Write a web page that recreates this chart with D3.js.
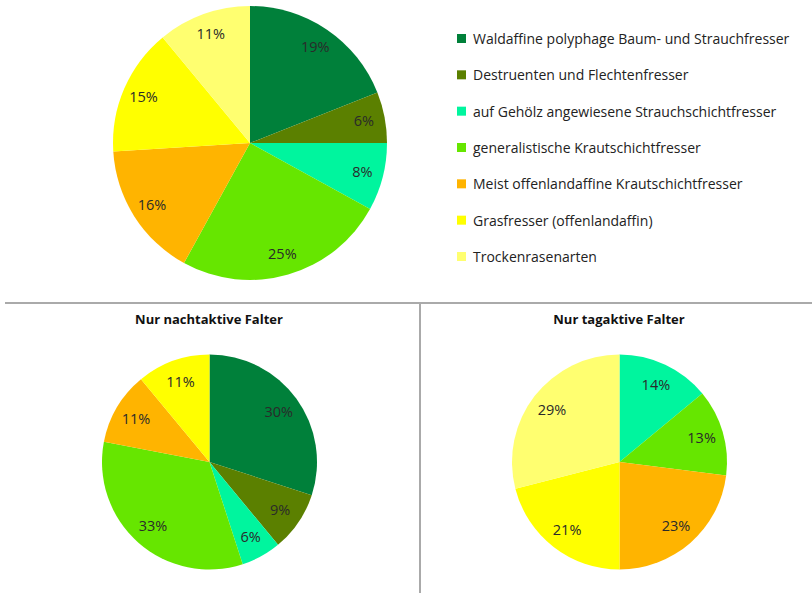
<!DOCTYPE html>
<html><head><meta charset="utf-8">
<script src="https://cdn.jsdelivr.net/npm/d3@7"></script>
<style>
html,body{margin:0;padding:0;background:#fff;}
svg{display:block;}
text{font-family:"Open Sans","Liberation Sans",sans-serif;}
</style></head>
<body>
<svg id="c" width="812" height="593"></svg>
<script>
const categories = [
  "Waldaffine polyphage Baum- und Strauchfresser",
  "Destruenten und Flechtenfresser",
  "auf Gehölz angewiesene Strauchschichtfresser",
  "generalistische Krautschichtfresser",
  "Meist offenlandaffine Krautschichtfresser",
  "Grasfresser (offenlandaffin)",
  "Trockenrasenarten"
];
const colors = ["#00803a","#5b8000","#00f59e","#66e600","#ffb400","#ffff00","#ffff70"];
const allValues   = [19, 6, 8, 25, 16, 15, 11];
const nightValues = [30, 9, 6, 33, 11, 11, 0];
const dayValues   = [0, 0, 14, 13, 23, 21, 29];
const titles = ["", "Nur nachtaktive Falter", "Nur tagaktive Falter"];

const svg = d3.select("#c");
const color = d3.scaleOrdinal().domain(categories).range(colors);

function drawPie(values, cx, cy, r, labelOff){
  const data = categories.map((c,i)=>({cat:c, v:values[i]}));
  const pie = d3.pie().value(d=>d.v).sort(null);
  const arcs = pie(data).filter(d=>d.data.v>0);
  const arc = d3.arc().innerRadius(0).outerRadius(r);
  const lab = d3.arc().innerRadius(r-labelOff).outerRadius(r-labelOff);
  const g = svg.append("g").attr("transform",`translate(${cx},${cy})`);
  g.selectAll("path").data(arcs).join("path")
    .attr("d",arc).attr("fill",d=>color(d.data.cat));
  g.selectAll("text").data(arcs).join("text")
    .attr("transform",d=>`translate(${lab.centroid(d)})`)
    .attr("text-anchor","middle").attr("dy","0.35em")
    .attr("font-size",14.5).attr("fill","#2a2a2a")
    .text(d=>d.data.v+"%");
}

drawPie(allValues, 250, 143, 137, 21);
drawPie(nightValues, 209.5, 462, 107.5, 22);
drawPie(dayValues, 619.5, 462, 107.5, 22);

// dividers
svg.append("line").attr("x1",5).attr("x2",812).attr("y1",303).attr("y2",303)
  .attr("stroke","#aaa").attr("stroke-width",2);
svg.append("line").attr("x1",420).attr("x2",420).attr("y1",303).attr("y2",593)
  .attr("stroke","#aaa").attr("stroke-width",2);

// titles
svg.append("text").attr("x",209).attr("y",324).attr("text-anchor","middle")
  .attr("font-size",13).attr("font-weight","bold").attr("fill","#111").text(titles[1]);
svg.append("text").attr("x",619).attr("y",324).attr("text-anchor","middle")
  .attr("font-size",13).attr("font-weight","bold").attr("fill","#111").text(titles[2]);

// legend
const leg = svg.append("g");
const ly = d3.scalePoint().domain(categories).range([39, 257]);
const items = leg.selectAll("g").data(categories).join("g")
  .attr("transform",d=>`translate(457,${ly(d)})`);
items.append("rect").attr("x",0).attr("y",-5).attr("width",9).attr("height",9)
  .attr("fill",d=>color(d));
items.append("text").attr("x",16).attr("y",0).attr("dy","0.35em")
  .attr("font-size",14).attr("fill","#222").text(d=>d);
</script>
</body></html>
